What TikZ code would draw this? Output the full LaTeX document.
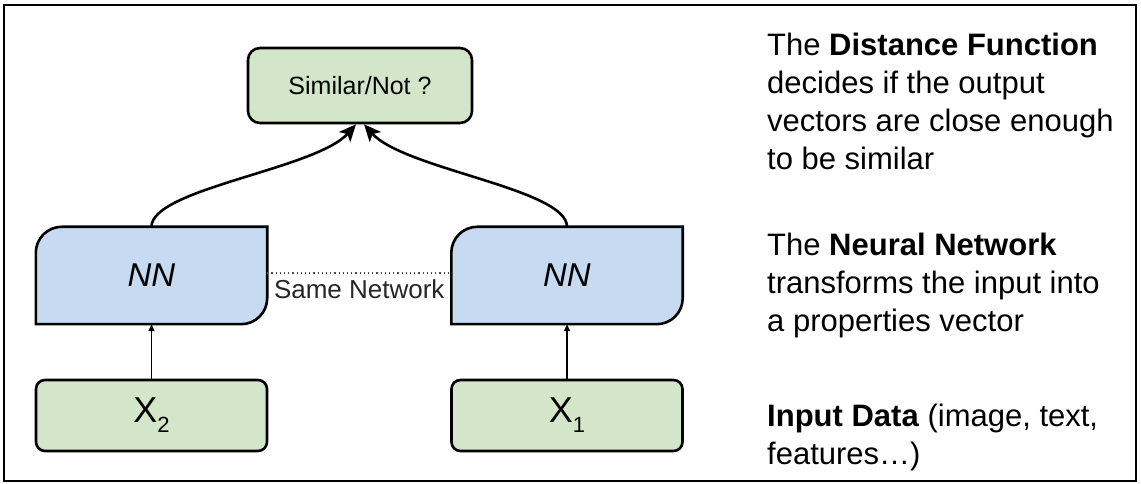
\documentclass[tikz,border=0pt]{standalone}
\usepackage{fontspec}
\setmainfont{Liberation Sans}
\usepackage{tikz}
\usetikzlibrary{arrows.meta,backgrounds,positioning}
\definecolor{boxgreen}{HTML}{D3E6C9}
\definecolor{boxblue}{HTML}{C6DAF1}

\begin{document}
\begin{tikzpicture}[x=1pt,y=1pt,
  every node/.style={font=\fontsize{25}{28}\selectfont},
  gnode/.style={draw, line width=2.6pt, fill=boxgreen, rounded corners=9pt,
                minimum width=231pt, minimum height=71pt},
  snode/.style={gnode, rounded corners=12pt, minimum width=224pt, minimum height=75pt},
  nnode/.style={minimum width=231pt, minimum height=97pt, font=\fontsize{33}{36}\selectfont\itshape},
  nshape/.style={draw, line width=2.6pt, fill=boxblue},
  tnode/.style={align=left, anchor=north west, inner sep=0pt, font=\fontsize{31}{37.8}\selectfont},
  bigarrow/.style={line width=2.6pt, -{Stealth[length=17pt,width=15pt,inset=4pt]}},
  smallarrow/.style={line width=1.3pt, -{Triangle[length=7pt,width=6pt]}}]

\useasboundingbox (0,0) rectangle (1141,484);
\draw[line width=2.8pt] (4,3) rectangle (1136,479);

  \node (sim) [snode] at (360,398.5) {Similar/Not ?};
  \node (nnl) [nnode] at (151.5,208.5) {NN};
  \node (nnr) [nnode] at (567,208.5) {NN};
  \node (xl) [gnode] at (151.5,68.5) {\fontsize{36}{40}\selectfont X\raisebox{-10pt}{\fontsize{22}{22}\selectfont 2}};
  \node (xr) [gnode] at (567,68.5) {\fontsize{36}{40}\selectfont X\raisebox{-10pt}{\fontsize{22}{22}\selectfont 1}};

\begin{scope}[on background layer]
\foreach \n in {nnl,nnr}
  \draw[nshape] (\n.south west) -- ([yshift=-26]\n.north west)
    arc[start angle=180,end angle=90,radius=26] -- (\n.north east)
    -- ([yshift=26]\n.south east) arc[start angle=0,end angle=-90,radius=26] -- cycle;
\end{scope}

  \draw[smallarrow] (xl) -- (nnl);
  \draw[smallarrow] (xr) -- (nnr);

  \draw[bigarrow] (nnl.north) .. controls +(0,38) and +(-40,-45) .. ([xshift=-4]sim.south);
  \draw[bigarrow] (nnr.north) .. controls +(0,38) and +(40,-45) .. ([xshift=4]sim.south);

  \draw[black!70, line width=1.2pt, dash pattern=on 1.2pt off 3pt]
    ([yshift=2.5]nnl.east) -- ([yshift=2.5]nnr.west)
    node (same) [midway, below=6pt, inner sep=0pt, text=black!85,
                 font=\fontsize{26}{28}\selectfont] {Same Network};

  \node (dist) [tnode] at (767,451) {The \textbf{Distance Function}\\decides if the output\\vectors are close enough\\to be similar};
  \node (neur) [tnode] at (767,251) {The \textbf{Neural Network}\\transforms the input into\\a properties vector};
  \node (inp) [tnode] at (767,80) {\textbf{Input Data} (image, text,\\features…)};

\end{tikzpicture}
\end{document}
